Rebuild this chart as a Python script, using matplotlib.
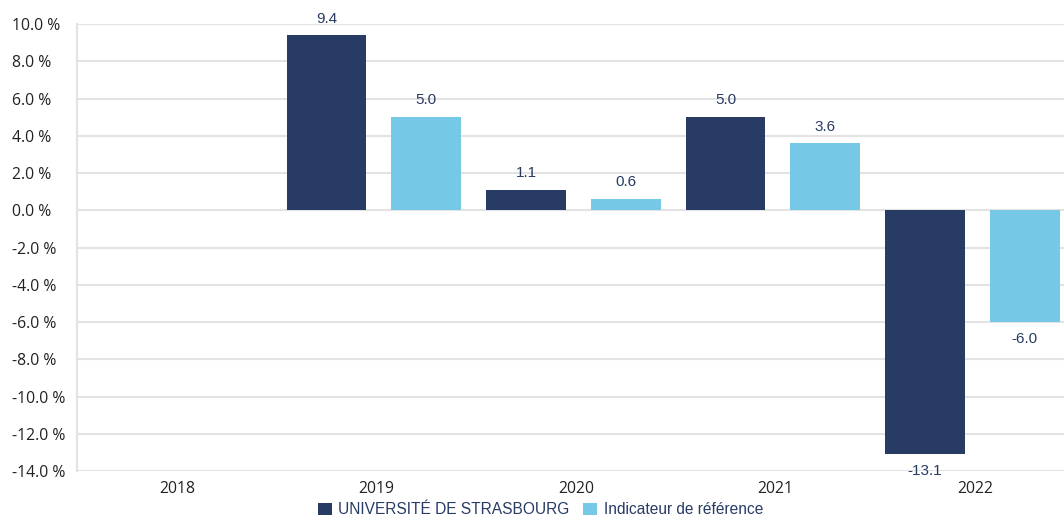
import numpy as np
import matplotlib
matplotlib.use("Agg")
import matplotlib.pyplot as plt
from matplotlib.ticker import FuncFormatter

years = ["2018", "2019", "2020", "2021", "2022"]
unistra = [np.nan, 9.4, 1.1, 5.0, -13.1]
reference = [np.nan, 5.0, 0.6, 3.6, -6.0]
series_names = ["UNIVERSITÉ DE STRASBOURG", "Indicateur de référence"]

DARK = "#283b64"
LIGHT = "#75c9e6"
GRID = "#e3e3e3"

fig = plt.figure(figsize=(10.64, 5.24), dpi=100)
ax = fig.add_axes([77 / 1064, 53 / 524, 1 - 77 / 1064, 447 / 524])

x = np.arange(len(years))
off = 0.25
b1 = ax.bar(x - off, unistra, 0.40, color=DARK, label=series_names[0], zorder=3)
b2 = ax.bar(x + off, reference, 0.35, color=LIGHT, label=series_names[1], zorder=3)

for bars, vals in ((b1, unistra), (b2, reference)):
    for rect, v in zip(bars, vals):
        if np.isnan(v):
            continue
        dy = 12 if v >= 0 else -12
        ax.annotate(f"{v:.1f}", (rect.get_x() + rect.get_width() / 2, v),
                    xytext=(0, dy), textcoords="offset points",
                    ha="center", va="center", fontsize=11,
                    color=DARK, family="Liberation Sans", zorder=4)

ax.set_ylim(-14, 10)
ax.set_yticks(np.arange(-14, 11, 2))
ax.yaxis.set_major_formatter(FuncFormatter(lambda v, p: f"{v:.1f} %"))
ax.set_xlim(-0.5, 4.446)
ax.set_xticks(x)
ax.set_xticklabels(years)
ax.grid(axis="y", color=GRID, linewidth=1.5, zorder=0)
for s in ("top", "right", "bottom"):
    ax.spines[s].set_visible(False)
ax.spines["left"].set_color(GRID)
ax.spines["left"].set_linewidth(1.5)
ax.tick_params(length=0, labelsize=11.3, labelcolor="#222222")
ax.tick_params(axis="y", pad=65 / 1.389)
for lab in ax.get_yticklabels():
    lab.set_ha("left")
    lab.set_family("Open Sans")
for lab in ax.get_xticklabels():
    lab.set_family("Open Sans")
ax.tick_params(axis="x", pad=7)

leg = fig.legend(loc="lower center", bbox_to_anchor=(0.508, -0.014), ncol=2,
                 frameon=False, prop={"family": "Liberation Sans", "size": 11.2},
                 handlelength=0.9, handleheight=0.9, handletextpad=0.4,
                 columnspacing=0.9)
for t in leg.get_texts():
    t.set_color(DARK)

fig.savefig("out.png", dpi=100)
